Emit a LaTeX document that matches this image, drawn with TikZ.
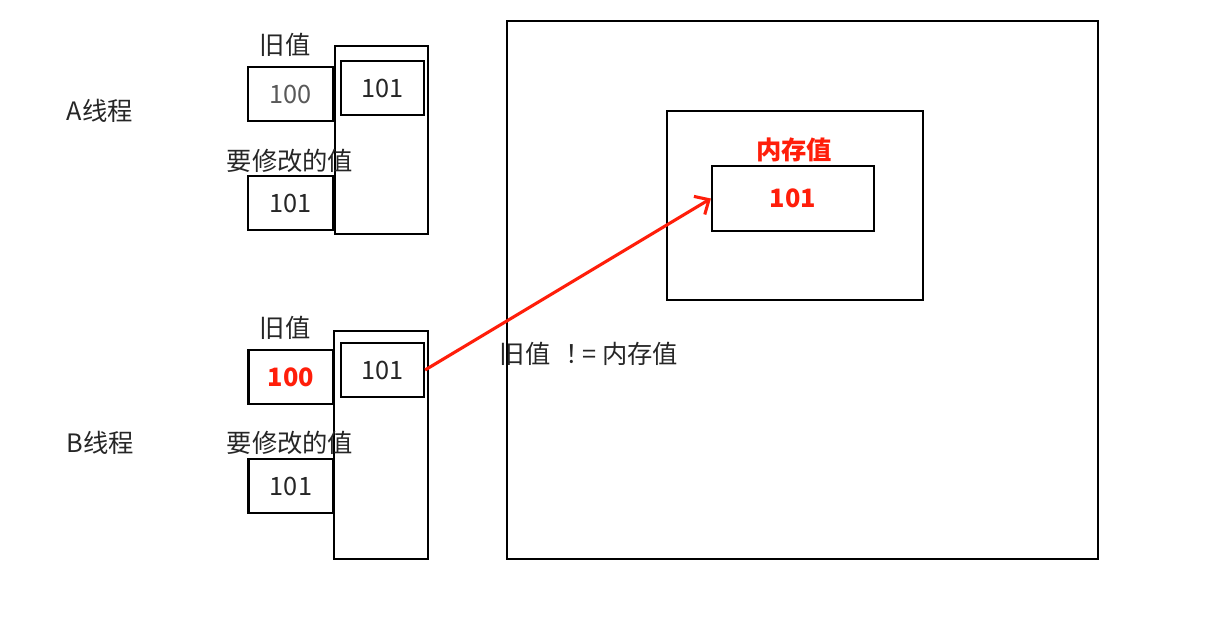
\documentclass[tikz,border=0pt]{standalone}
\usepackage{fontspec}
\setmainfont{Noto Sans CJK SC}
\usetikzlibrary{arrows.meta}
\definecolor{alertred}{RGB}{255,30,10}
\begin{document}
\begin{tikzpicture}[x=0.025cm,y=-0.025cm,font=\fontsize{18}{21}\selectfont,text=black!85,
  box/.style={draw,line width=1.5pt,inner sep=0pt},
  valbox/.style={box,minimum width=2.125cm,minimum height=1.35cm},
  slotbox/.style={box,minimum width=2.075cm,minimum height=1.35cm},
  hot/.style={text=alertred,font=\fontsize{18}{21}\selectfont\bfseries}]
  \useasboundingbox (0,0) rectangle (1229,620);
  % thread A
  \node at (100,111) {A线程};
  \node[box,minimum width=2.325cm,minimum height=4.7cm] (colA) at (381.5,140) {};
  \node at (285,45) {旧值};
  \node[valbox,text=black!65] (oldA) at (290.5,94) {100};
  \node[slotbox] (slotA) at (382.5,88) {101};
  \node at (290,161) {要修改的值};
  \node[valbox] (newA) at (290.5,203) {101};
  % thread B
  \node at (100,443) {B线程};
  \node[box,minimum width=2.35cm,minimum height=5.7cm] (colB) at (381,445) {};
  \node at (285,328) {旧值};
  \node[valbox,hot] (oldB) at (291,377) {100};
  \node[slotbox] (slotB) at (382.5,370) {101};
  \node at (290,443) {要修改的值};
  \node[valbox] (newB) at (291,486) {101};
  % memory
  \node[box,minimum width=14.775cm,minimum height=13.45cm] (heap) at (802.5,290) {};
  \node[box,minimum width=6.4cm,minimum height=4.725cm] (cell) at (795,205.5) {};
  \node[hot] at (794,150) {内存值};
  \node[box,hot,minimum width=4.05cm,minimum height=1.625cm] (mem) at (793,198.5) {101};
  \node at (589,354) {旧值\hspace{0.6em}！\hspace{-0.35em}=\hspace{0.25em}内存值};
  \draw[alertred,line width=2.2pt,->,>={Straight Barb[length=8pt,width=15pt]}] (slotB.east) -- (mem.west);
\end{tikzpicture}
\end{document}
